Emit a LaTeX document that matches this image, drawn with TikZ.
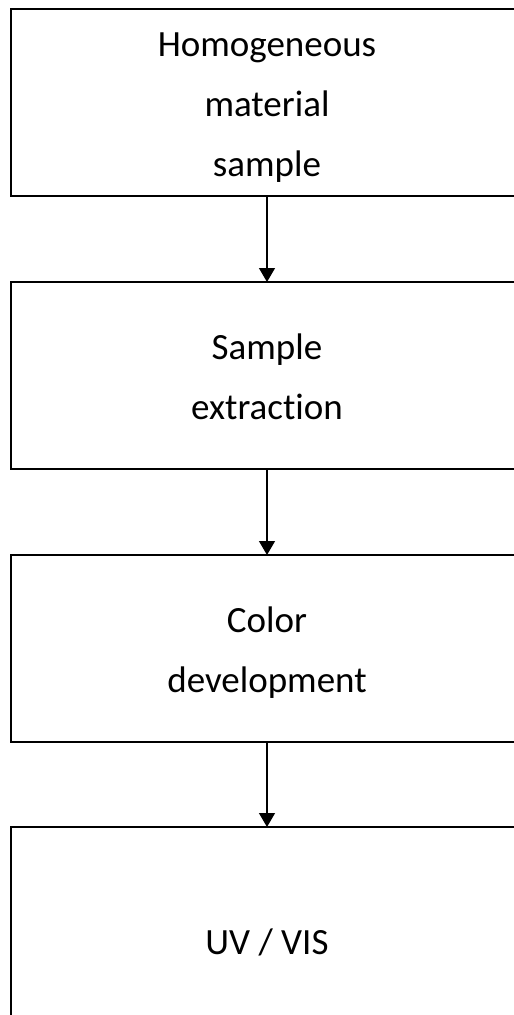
\documentclass[tikz,border=0pt]{standalone}
\usepackage{fontspec}
\setmainfont{Carlito}[Ligatures=NoCommon]
\usetikzlibrary{arrows.meta, positioning}
\tikzset{
    stage/.style={rectangle, draw=black, line width=1.6pt, outer sep=0pt, inner sep=0pt,
        minimum width=512pt, minimum height=187pt, align=center,
        font=\fontsize{37}{60}\selectfont, text depth=10pt, text height=#1},
    flow/.style={-{Triangle[width=16pt,length=14pt]}, line width=1.3pt}
}
\begin{document}
\begin{tikzpicture}[x=1pt, y=1pt]
    % Page frame
    \useasboundingbox (0,0) rectangle (514,-1015);

    % Process stages
    \node[stage=157pt, anchor=north] (sample) at (267,-9) {Homogeneous\\material\\sample};
    \node[stage=97pt, below=86pt of sample] (extract) {Sample\\extraction};
    \node[stage=97pt, below=86pt of extract] (colour) {Color\\development};
    \node[stage=37pt, minimum height=227pt, below=85pt of colour] (uvvis) {UV / VIS};

    % Flow arrows
    \draw[flow] (sample) -- (extract);
    \draw[flow] (extract) -- (colour);
    \draw[flow] (colour) -- (uvvis);
\end{tikzpicture}
\end{document}
